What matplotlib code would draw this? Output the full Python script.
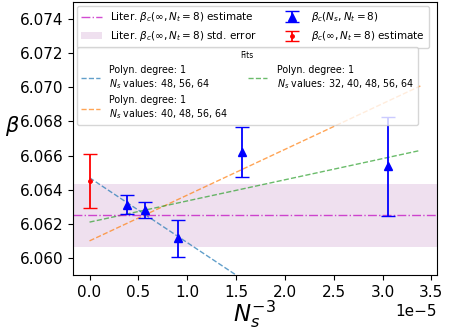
import numpy as np
import matplotlib.pyplot as plt
from matplotlib.ticker import MultipleLocator

# data
Ns = np.array([32, 40, 48, 56, 64])
beta_c = np.array([6.06538, 6.06620, 6.06115, 6.06280, 6.06312])
beta_err = np.array([0.00290, 0.00148, 0.00108, 0.00048, 0.00057])

beta_inf = 6.06450
beta_inf_err = 0.00158

lit_beta = 6.0625
lit_err = 0.00183

# fits: (Ns used, intercept, slope)
fit_sets = [[48, 56, 64], [40, 48, 56, 64], [32, 40, 48, 56, 64]]
fit_b0 = [6.0647, 6.0610, 6.0621]
fit_b1 = [-380.0, 268.0, 124.0]
fit_colors = ['tab:blue', 'tab:orange', 'tab:green']

x = Ns.astype(float) ** -3
xfit = np.linspace(0, 1.11 * x.max(), 100)

fig = plt.figure(figsize=(4.49, 3.32), dpi=100)
ax = fig.add_axes([0.1626, 0.1717, 0.8104, 0.8223])

fit_handles = []
for ns, b0, b1, c in zip(fit_sets, fit_b0, fit_b1, fit_colors):
    lab = 'Polyn. degree: 1\n$N_s$ values: ' + ', '.join(str(n) for n in ns)
    h, = ax.plot(xfit, b0 + b1 * xfit, '--', color=c, alpha=0.7, lw=1, label=lab)
    fit_handles.append(h)

h_lit = ax.axhline(lit_beta, color='m', ls='-.', lw=1, alpha=0.7)
h_band = ax.axhspan(lit_beta - lit_err, lit_beta + lit_err, color='purple', alpha=0.12, lw=0)

h_blue = ax.errorbar(x, beta_c, yerr=beta_err, fmt='^', color='blue', capsize=5, ms=6, lw=1.3)
h_red = ax.errorbar([0], [beta_inf], yerr=[beta_inf_err], fmt='.', color='red', capsize=5, ms=5, lw=1.3)

ax.set_ylim(6.0590, 6.0750)
ax.set_yticks(np.arange(6.060, 6.0741, 0.002))
ax.xaxis.set_major_locator(MultipleLocator(0.5e-5))
ax.tick_params(labelsize=11)
ax.xaxis.get_offset_text().set_fontsize(11)
ax.set_xlabel('$N_s^{-3}$', fontsize=16.5, labelpad=-1)
ax.set_ylabel(r'$\beta$', fontsize=15, rotation=0, labelpad=5)

leg1 = ax.legend([h_lit, h_band, h_blue, h_red],
                 [r'Liter. $\beta_c(\infty, N_t=8)$ estimate',
                  r'Liter. $\beta_c(\infty, N_t=8)$ std. error',
                  r'$\beta_c(N_s, N_t=8)$',
                  r'$\beta_c(\infty, N_t=8)$ estimate'],
                 ncol=2, fontsize=7.45, loc='upper left',
                 bbox_to_anchor=(0.0, 1.0), borderaxespad=0.4,
                 columnspacing=2.4)
ax.add_artist(leg1)
ax.legend(handles=fit_handles, ncol=2, fontsize=6.85, title='Fits', title_fontsize=5.5,
          loc='upper left', bbox_to_anchor=(0.0, 0.848), borderaxespad=0.4,
          handletextpad=1.0, columnspacing=2.1)

fig.savefig('out.png', dpi=100)
